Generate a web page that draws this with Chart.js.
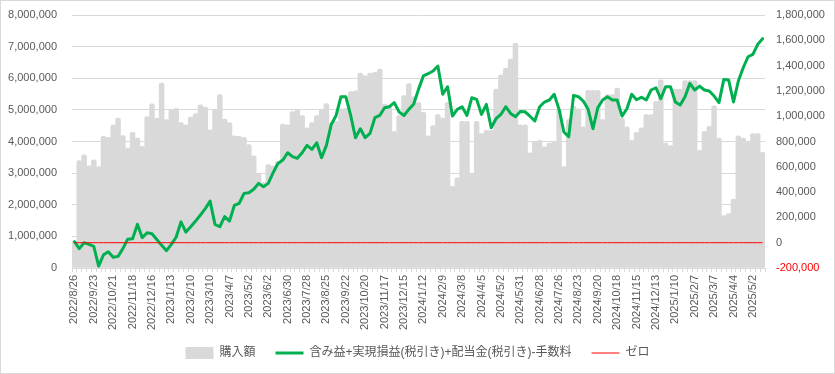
<!DOCTYPE html>
<html>
<head>
<meta charset="utf-8">
<script src="https://cdn.jsdelivr.net/npm/chart.js@4/dist/chart.umd.min.js"></script>
<style>
  html, body { margin: 0; padding: 0; background: #fff; }
  canvas { display: block; }
</style>
</head>
<body>
<canvas id="chart" width="835" height="374"></canvas>
<script>
// labels shown under the x axis (every 4th week)
const tickLabels = [
  '2022/8/26', '2022/9/23', '2022/10/21', '2022/11/18', '2022/12/16',
  '2023/1/13', '2023/2/10', '2023/3/10', '2023/4/7', '2023/5/2',
  '2023/6/2', '2023/6/30', '2023/7/28', '2023/8/25', '2023/9/22',
  '2023/10/20', '2023/11/17', '2023/12/15', '2024/1/12', '2024/2/9',
  '2024/3/8', '2024/4/5', '2024/5/2', '2024/5/31', '2024/6/28',
  '2024/7/26', '2024/8/23', '2024/9/20', '2024/10/18', '2024/11/15',
  '2024/12/13', '2025/1/10', '2025/2/7', '2025/3/7', '2025/4/4', '2025/5/2'
];

// 購入額 (left axis, yen)
const purchase = [
  840000, 3400000, 3580000, 3230000, 3420000, 3210000, 4160000, 4130000, 4530000, 4740000,
  4190000, 3790000, 4290000, 4110000, 3850000, 4790000, 5190000, 4740000, 5850000, 4690000,
  5000000, 5050000, 4600000, 4530000, 4770000, 4880000, 5160000, 5090000, 4370000, 5000000,
  5480000, 4710000, 4600000, 4180000, 4160000, 4130000, 3900000, 3550000, 3000000, 2710000,
  3270000, 3230000, 3370000, 4550000, 4530000, 4950000, 5000000, 4820000, 4430000, 4600000,
  4820000, 5000000, 5200000, 4600000, 4640000, 5030000, 5050000, 5580000, 5600000, 6160000,
  6080000, 6160000, 6190000, 6290000, 5180000, 5140000, 4320000, 4820000, 5450000, 5830000,
  5410000, 5240000, 4920000, 4180000, 4500000, 4850000, 4740000, 5240000, 2580000, 2850000,
  4640000, 4640000, 3000000, 4640000, 4250000, 4350000, 4350000, 5660000, 6110000, 6320000,
  6610000, 7110000, 4530000, 4530000, 3640000, 4000000, 4040000, 3830000, 3950000, 4000000,
  5030000, 3210000, 4690000, 5110000, 5030000, 4460000, 5620000, 5620000, 5620000, 4690000,
  5480000, 5480000, 5690000, 4740000, 4460000, 4040000, 4290000, 4430000, 4850000, 4850000,
  5270000, 5950000, 3950000, 3870000, 5660000, 5660000, 5930000, 5930000, 5930000, 3720000,
  4320000, 4480000, 5130000, 4110000, 1660000, 1720000, 2180000, 4180000, 4110000, 3970000,
  4250000, 4250000, 3660000
];

// 含み益+実現損益(税引き)+配当金(税引き)-手数料 (right axis, yen)
const profit = [
  8000, -47000, 0, -13000, -30000, -185000, -95000, -72000, -115000, -108000,
  -47000, 28000, 32000, 145000, 40000, 79000, 71000, 26000, -21000, -63000,
  -13000, 45000, 165000, 84000, 126000, 171000, 219000, 269000, 329000, 145000,
  126000, 206000, 171000, 295000, 311000, 390000, 395000, 422000, 469000, 443000,
  469000, 553000, 627000, 653000, 711000, 680000, 667000, 711000, 769000, 738000,
  790000, 672000, 769000, 935000, 1006000, 1154000, 1154000, 1006000, 830000, 901000,
  830000, 864000, 988000, 1006000, 1067000, 1075000, 1107000, 1033000, 1006000, 1054000,
  1094000, 1212000, 1318000, 1336000, 1357000, 1397000, 1173000, 1233000, 1001000, 1054000,
  1075000, 1006000, 1146000, 1133000, 1014000, 1094000, 909000, 980000, 1014000, 1075000,
  1022000, 996000, 1037000, 1035000, 1000000, 962000, 1075000, 1112000, 1128000, 1173000,
  1054000, 875000, 838000, 1165000, 1154000, 1120000, 1054000, 901000, 1067000, 1128000,
  1154000, 1128000, 1128000, 1001000, 1059000, 1173000, 1130000, 1150000, 1128000, 1207000,
  1225000, 1138000, 1233000, 1233000, 1112000, 1088000, 1154000, 1260000, 1207000, 1238000,
  1207000, 1199000, 1159000, 1107000, 1291000, 1286000, 1112000, 1278000, 1383000, 1470000,
  1489000, 1568000, 1613000
];

// ゼロ reference line
const zero = profit.map(() => 0);

// weekly categories, the labelled ones come from tickLabels
const categories = purchase.map((_, i) => {
  if (i % 4 === 0 && tickLabels[i / 4]) return tickLabels[i / 4];
  const d = new Date(2022, 7, 26 + i * 7);
  return d.getFullYear() + '/' + (d.getMonth() + 1) + '/' + d.getDate();
});

const textColor = '#595959';
const gridColor = '#d9d9d9';
const fontFamily = "'Liberation Sans', 'Noto Sans CJK JP', sans-serif";

const frame = {
  id: 'frame',
  beforeDraw(chart) {
    const ctx = chart.ctx;
    ctx.save();
    ctx.fillStyle = '#fff';
    ctx.fillRect(0, 0, chart.width, chart.height);
    ctx.strokeStyle = gridColor;
    ctx.lineWidth = 1;
    ctx.strokeRect(0.5, 0.5, chart.width - 1, chart.height - 1);
    ctx.restore();
  },
  // the x labels are clipped to the scale box; let them run past the legend's top edge
  afterLayout(chart) {
    const x = chart.scales.x;
    x.bottom = chart.height;
  }
};

new Chart(document.getElementById('chart'), {
  data: {
    labels: categories,
    datasets: [
      {
        type: 'bar',
        label: '購入額',
        data: purchase,
        yAxisID: 'y',
        backgroundColor: '#d9d9d9',
        categoryPercentage: 1,
        barPercentage: 1,
        borderRadius: 2,
        order: 3
      },
      {
        type: 'line',
        label: '含み益+実現損益(税引き)+配当金(税引き)-手数料',
        data: profit,
        yAxisID: 'y1',
        borderColor: '#00b050',
        borderWidth: 3,
        borderJoinStyle: 'round',
        borderCapStyle: 'round',
        pointRadius: 0,
        tension: 0,
        order: 2
      },
      {
        type: 'line',
        label: 'ゼロ',
        data: zero,
        yAxisID: 'y1',
        borderColor: '#ff0000',
        borderWidth: 1,
        pointRadius: 0,
        order: 1
      }
    ]
  },
  options: {
    responsive: false,
    animation: false,
    devicePixelRatio: 1,
    layout: { padding: { top: 15, right: 0, bottom: 5, left: 0 } },
    plugins: {
      tooltip: { enabled: false },
      legend: {
        position: 'bottom',
        labels: {
          color: textColor,
          font: { family: fontFamily, size: 12 },
          usePointStyle: true,
          pointStyleWidth: 28,
          boxHeight: 12,
          padding: 20,
          generateLabels: chart => chart.data.datasets.map((ds, i) => ({
            text: ds.label,
            fillStyle: ds.type === 'line' ? ds.borderColor : ds.backgroundColor,
            strokeStyle: ds.type === 'line' ? ds.borderColor : ds.backgroundColor,
            lineWidth: ds.type === 'line' ? ds.borderWidth : 0,
            pointStyle: ds.type === 'line' ? 'line' : 'rect',
            fontColor: textColor,
            hidden: false,
            datasetIndex: i
          }))
        }
      }
    },
    scales: {
      x: {
        offset: true,
        grid: {
          offset: true,
          drawOnChartArea: false,
          drawTicks: true,
          tickLength: 4,
          color: gridColor
        },
        border: { color: gridColor },
        ticks: {
          autoSkip: false,
          minRotation: 90,
          maxRotation: 90,
          padding: 3,
          color: textColor,
          font: { family: fontFamily, size: 11 },
          callback: (v, i) => (i % 4 === 0 && tickLabels[i / 4]) ? tickLabels[i / 4] : ''
        },
        afterFit: scale => { scale.height = 59; }
      },
      y: {
        position: 'left',
        min: 0,
        max: 8000000,
        grid: { color: gridColor, drawTicks: true, tickLength: 12, tickColor: 'rgba(0,0,0,0)' },
        border: { display: false },
        ticks: {
          stepSize: 1000000,
          padding: 3,
          color: textColor,
          font: { family: fontFamily, size: 11 },
          callback: v => v.toLocaleString('en-US')
        },
        afterFit: scale => { scale.width = 72; }
      },
      y1: {
        position: 'right',
        min: -200000,
        max: 1800000,
        grid: { drawOnChartArea: false, drawTicks: true, tickLength: 8, tickColor: 'rgba(0,0,0,0)' },
        border: { display: false },
        ticks: {
          stepSize: 200000,
          padding: 3,
          color: ctx => ctx.tick.value < 0 ? '#ff0000' : textColor,
          font: { family: fontFamily, size: 11 },
          callback: v => v.toLocaleString('en-US')
        },
        afterFit: scale => { scale.width = 70; }
      }
    }
  },
  plugins: [frame]
});
</script>
</body>
</html>
